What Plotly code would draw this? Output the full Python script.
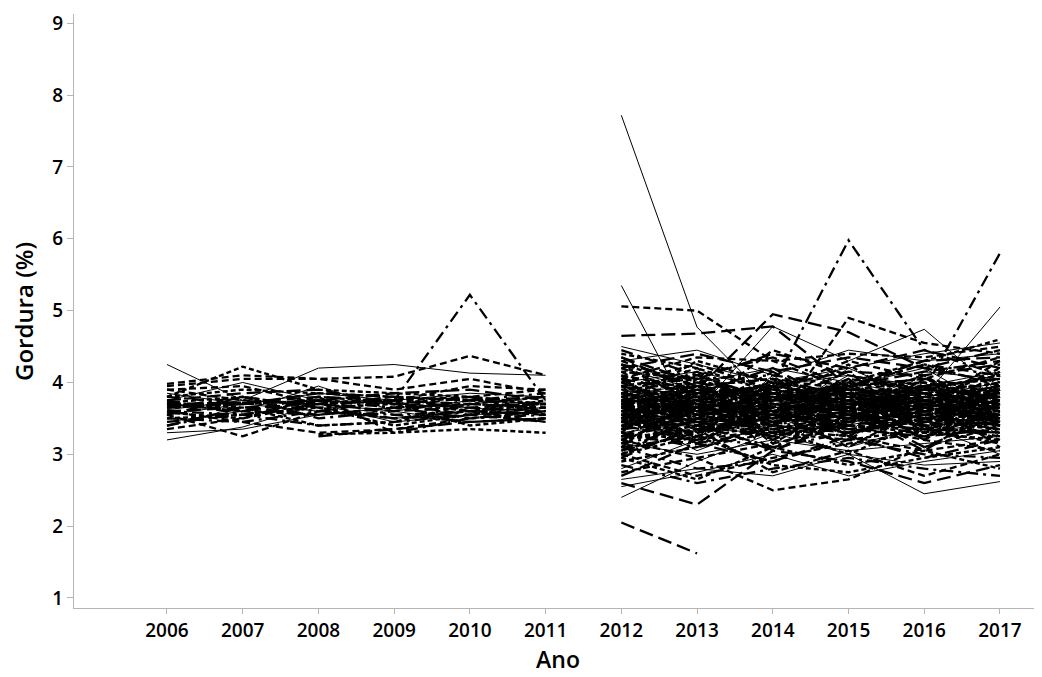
import plotly.graph_objects as go

years_early = [2006, 2007, 2008, 2009, 2010, 2011]
years_late = [2012, 2013, 2014, 2015, 2016, 2017]
tick_years = list(range(2006, 2018))
y_ticks = [1, 2, 3, 4, 5, 6, 7, 8, 9]

fat_early = [
    [4.25, 3.75, 4.20, 4.25, 4.13, 4.10],
    [3.95, 4.05, 4.05, 4.08, 4.37, 4.10],
    [3.70, 3.72, 3.80, 3.75, 3.65, 3.60],
    [3.60, 3.55, 3.70, 3.75, 5.22, 3.75],
    [3.80, 4.22, 3.90, 3.85, 3.80, 3.70],
    [3.20, 3.38, 3.70, 3.60, 3.75, 3.70],
    [3.55, 3.25, 3.60, 3.50, 3.60, 3.55],
    [None, None, 3.25, 3.35, 3.45, 3.50],
    [3.40, 3.60, 3.80, 3.30, 3.50, 3.60],
    [None, None, 3.28, 3.30, 3.35, 3.30],
    [3.75, 4.00, 3.75, 3.70, 3.65, 3.55],
    [3.98, 4.10, 4.05, 3.90, 4.05, 3.85],
    [3.65, 3.70, 3.85, 3.80, 3.75, 3.80],
    [3.50, 3.45, 3.60, 3.75, 3.70, 3.65],
    [3.72, 3.80, 3.65, 3.40, 3.55, 3.75],
    [3.45, 3.60, 3.95, 3.60, 3.45, 3.50],
    [3.90, 3.75, 3.70, 3.75, 3.95, 3.90],
    [3.60, 3.65, 3.55, 3.65, 3.80, 3.60],
    [3.80, 3.70, 3.75, 3.55, 3.60, 3.70],
    [3.70, 3.65, 3.40, 3.45, 3.70, 3.80],
    [3.55, 3.70, 3.85, 3.75, 3.85, 3.80],
    [3.35, 3.50, 3.70, 3.80, 3.60, 3.45],
    [3.75, 3.85, 3.90, 3.70, 3.55, 3.60],
    [3.65, 3.80, 3.50, 3.60, 3.75, 3.85],
    [3.50, 3.55, 3.65, 3.70, 3.40, 3.50],
    [3.85, 3.70, 3.60, 3.50, 3.60, 3.65],
    [3.60, 3.45, 3.30, 3.35, 3.50, 3.60],
    [3.72, 3.60, 3.75, 3.85, 3.90, 3.75],
    [3.45, 3.55, 3.75, 3.65, 3.50, 3.55],
    [3.80, 3.90, 3.85, 3.80, 3.75, 3.70],
    [3.62, 3.75, 3.70, 3.45, 3.55, 3.60],
    [3.70, 3.60, 3.55, 3.65, 3.70, 3.65],
    [3.40, 3.65, 3.70, 3.60, 3.65, 3.70],
    [3.68, 3.72, 3.60, 3.55, 3.45, 3.50],
    [3.58, 3.50, 3.80, 3.72, 3.60, 3.75],
    [3.30, 3.35, 3.55, 3.65, 3.70, 3.80],
    [3.90, 3.95, 3.70, 3.75, 3.80, 3.90],
    [3.55, 3.80, 3.65, 3.50, 3.55, 3.45],
    [3.75, 3.55, 3.40, 3.45, 3.55, 3.65],
    [3.65, 3.70, 3.75, 3.70, 3.80, 3.55],
]

fat_late = [
    [7.72, 4.77, 3.70, 3.90, 3.75, 3.60],
    [5.06, 5.00, 4.30, 3.90, 4.00, 3.80],
    [4.65, 4.68, 4.78, 3.95, 4.30, 4.35],
    [3.60, 3.80, 3.95, 5.98, 4.45, 4.10],
    [4.40, 4.20, 3.85, 3.70, 3.95, 4.05],
    [5.35, 3.35, 3.60, 3.50, 3.40, 3.55],
    [4.05, 4.35, 4.30, 4.40, 4.35, 4.50],
    [2.05, 1.62, None, None, None, None],
    [3.50, 3.70, 3.60, 3.85, 3.90, 5.80],
    [4.25, 3.95, 3.50, 3.80, 3.65, 3.40],
    [3.40, 3.60, 4.78, 4.30, 4.74, 3.85],
    [3.85, 3.55, 3.40, 4.90, 4.55, 4.40],
    [3.70, 3.90, 4.95, 4.70, 4.20, 4.00],
    [3.30, 3.10, 3.40, 3.60, 3.75, 3.95],
    [3.95, 4.10, 3.75, 4.00, 4.30, 4.60],
    [2.40, 2.90, 3.30, 3.00, 2.45, 2.62],
    [3.20, 2.95, 2.50, 2.65, 3.10, 3.40],
    [2.60, 2.30, 3.05, 2.90, 2.60, 2.85],
    [3.10, 2.80, 2.90, 3.20, 3.00, 2.95],
    [3.00, 3.25, 2.85, 2.75, 2.95, 3.10],
    [3.80, 4.00, 4.20, 4.00, 3.80, 5.05],
    [3.55, 3.65, 3.50, 3.70, 3.60, 3.75],
    [3.75, 3.60, 3.80, 3.65, 3.90, 3.70],
    [3.35, 3.50, 3.45, 3.30, 3.55, 3.60],
    [3.65, 3.85, 3.70, 3.55, 3.70, 3.85],
    [3.90, 3.70, 3.55, 3.75, 3.95, 3.80],
    [3.45, 3.30, 3.60, 3.65, 3.50, 3.35],
    [3.60, 3.75, 3.95, 3.80, 3.65, 3.55],
    [3.25, 3.45, 3.30, 3.50, 3.40, 3.25],
    [3.80, 3.55, 3.65, 3.90, 3.85, 4.00],
    [3.50, 3.40, 3.75, 3.60, 3.30, 3.45],
    [4.10, 3.90, 3.85, 3.70, 3.60, 3.75],
    [3.70, 3.80, 3.60, 3.40, 3.55, 3.65],
    [3.15, 3.35, 3.55, 3.45, 3.60, 3.50],
    [3.95, 3.75, 4.00, 3.85, 3.70, 3.90],
    [3.55, 3.45, 3.35, 3.55, 3.75, 3.80],
    [3.85, 3.95, 3.80, 3.60, 3.50, 3.70],
    [3.40, 3.60, 3.65, 3.75, 3.85, 3.60],
    [3.65, 3.50, 3.40, 3.35, 3.45, 3.55],
    [3.30, 3.20, 3.45, 3.70, 3.65, 3.45],
    [4.00, 4.15, 3.90, 3.75, 3.80, 3.95],
    [3.60, 3.70, 3.85, 3.95, 4.05, 3.85],
    [3.75, 3.65, 3.55, 3.45, 3.35, 3.30],
    [3.45, 3.55, 3.70, 3.60, 3.75, 3.90],
    [3.20, 3.40, 3.25, 3.40, 3.30, 3.20],
    [3.90, 3.85, 3.95, 4.10, 3.95, 4.15],
    [3.50, 3.75, 3.60, 3.50, 3.60, 3.70],
    [3.70, 3.45, 3.50, 3.65, 3.80, 3.65],
    [3.35, 3.55, 3.75, 3.85, 3.70, 3.50],
    [4.15, 4.05, 3.70, 3.60, 3.90, 4.10],
    [3.60, 3.35, 3.30, 3.45, 3.55, 3.40],
    [3.80, 3.70, 3.90, 3.80, 3.70, 3.60],
    [3.05, 3.30, 3.55, 3.35, 3.25, 3.35],
    [3.65, 3.90, 3.80, 3.70, 3.55, 3.75],
    [3.95, 3.60, 3.45, 3.55, 3.65, 3.85],
    [3.45, 3.40, 3.60, 3.80, 3.90, 3.80],
    [3.55, 3.80, 3.85, 3.65, 3.45, 3.50],
    [3.75, 3.95, 3.65, 3.50, 3.70, 3.95],
    [3.25, 3.15, 3.35, 3.55, 3.40, 3.30],
    [3.85, 3.65, 3.75, 3.95, 4.00, 3.75],
    [3.40, 3.50, 3.55, 3.40, 3.65, 3.75],
    [4.30, 3.95, 4.05, 3.90, 3.75, 3.65],
    [3.60, 3.60, 3.40, 3.30, 3.50, 3.60],
    [3.70, 3.85, 3.95, 3.75, 3.60, 3.80],
    [2.90, 3.10, 3.30, 3.20, 3.35, 3.15],
    [3.50, 3.65, 3.80, 3.90, 3.80, 4.00],
    [3.80, 3.50, 3.60, 3.70, 3.85, 3.70],
    [3.35, 3.45, 3.25, 3.45, 3.60, 3.55],
    [3.95, 4.05, 4.10, 3.95, 4.05, 3.90],
    [3.65, 3.55, 3.70, 3.60, 3.40, 3.45],
    [3.15, 3.00, 3.20, 3.05, 3.15, 3.25],
    [4.20, 3.80, 3.65, 4.05, 3.90, 3.85],
    [3.55, 3.70, 3.45, 3.55, 3.70, 3.60],
    [3.75, 3.50, 3.85, 3.75, 3.55, 3.40],
    [3.45, 3.65, 3.55, 3.35, 3.25, 3.45],
    [3.85, 3.75, 3.60, 3.70, 3.80, 3.95],
    [2.75, 2.95, 3.15, 3.40, 3.20, 3.05],
    [3.60, 3.85, 3.75, 3.85, 3.95, 3.75],
    [3.70, 3.60, 3.30, 3.50, 3.65, 3.80],
    [3.90, 4.00, 3.85, 3.65, 3.75, 3.55],
    [3.30, 3.45, 3.65, 3.75, 3.55, 3.65],
    [3.50, 3.30, 3.45, 3.60, 3.85, 3.70],
    [4.05, 3.85, 3.95, 4.15, 4.10, 4.25],
    [3.65, 3.75, 3.55, 3.45, 3.60, 3.50],
    [3.20, 3.35, 3.50, 3.65, 3.45, 3.35],
    [3.80, 3.90, 3.70, 3.55, 3.65, 3.85],
    [3.40, 3.20, 3.35, 3.25, 3.05, 3.20],
    [4.35, 4.00, 3.80, 3.95, 4.15, 4.30],
    [3.55, 3.60, 3.75, 3.85, 3.70, 3.60],
    [3.75, 3.80, 3.90, 3.70, 3.50, 3.65],
    [2.65, 2.80, 2.70, 3.00, 2.85, 2.90],
    [3.60, 3.45, 3.60, 3.80, 3.95, 4.05],
    [3.95, 3.70, 3.65, 3.55, 3.45, 3.60],
    [3.35, 3.65, 3.85, 3.70, 3.75, 3.50],
    [3.70, 3.55, 3.35, 3.45, 3.70, 3.85],
    [4.50, 4.25, 4.00, 4.20, 4.40, 4.55],
    [3.45, 3.75, 3.60, 3.40, 3.35, 3.55],
    [3.85, 3.60, 3.80, 3.90, 3.85, 3.70],
    [3.10, 3.25, 3.10, 3.30, 3.50, 3.40],
    [3.65, 3.95, 4.05, 3.80, 3.60, 3.75],
    [3.50, 3.55, 3.65, 3.70, 3.80, 3.95],
    [3.00, 2.70, 2.95, 3.15, 3.30, 3.55],
    [4.20, 4.40, 4.15, 4.35, 4.20, 4.45],
    [2.85, 2.60, 2.80, 2.95, 2.80, 2.70],
    [3.70, 4.30, 4.00, 3.60, 3.70, 4.20],
    [2.55, 2.75, 3.00, 2.70, 2.90, 3.05],
    [4.00, 3.65, 4.45, 4.10, 3.90, 4.10],
    [3.10, 3.85, 3.40, 4.05, 3.30, 3.90],
    [4.10, 3.30, 3.95, 3.20, 3.85, 3.35],
    [3.30, 4.05, 3.20, 3.90, 3.50, 4.15],
    [3.95, 3.20, 4.10, 3.40, 4.00, 3.25],
    [3.45, 3.95, 3.15, 3.75, 4.10, 3.45],
    [3.75, 3.15, 3.70, 4.15, 3.35, 3.95],
    [3.05, 3.50, 3.90, 3.25, 3.80, 3.10],
    [4.25, 3.70, 3.25, 3.85, 3.20, 4.00],
    [3.60, 3.05, 3.45, 3.95, 4.20, 3.60],
    [3.85, 4.20, 3.60, 3.10, 3.65, 4.30],
    [3.20, 3.60, 4.15, 3.60, 3.05, 3.70],
    [4.05, 3.45, 3.05, 3.50, 3.95, 3.50],
    [3.50, 4.10, 3.75, 4.25, 3.60, 3.20],
    [3.90, 3.35, 3.85, 3.30, 4.15, 4.05],
    [3.15, 3.75, 3.40, 3.95, 3.45, 3.85],
    [4.35, 3.85, 4.20, 3.65, 3.95, 3.40],
    [2.95, 3.40, 3.10, 3.55, 3.25, 3.60],
    [3.70, 3.25, 4.05, 3.55, 3.30, 4.10],
    [3.40, 3.90, 3.50, 4.10, 3.85, 3.30],
    [4.15, 3.60, 3.95, 3.45, 4.05, 3.70],
    [3.25, 3.70, 3.20, 3.65, 3.10, 3.55],
    [3.80, 4.15, 3.55, 4.00, 3.40, 3.90],
    [3.55, 3.15, 3.80, 3.25, 3.70, 3.15],
    [2.80, 3.20, 3.55, 3.10, 3.40, 3.00],
    [4.00, 4.25, 3.90, 4.30, 4.05, 4.35],
    [3.35, 3.80, 3.05, 3.45, 3.95, 3.60],
    [3.65, 3.40, 4.00, 3.85, 3.20, 3.80],
    [3.00, 3.55, 3.35, 3.00, 3.45, 3.90],
    [4.20, 3.90, 3.45, 4.20, 3.75, 3.55],
    [3.45, 3.25, 3.65, 3.95, 4.25, 3.95],
    [2.70, 3.15, 2.90, 3.25, 2.95, 3.20],
    [4.45, 4.10, 4.35, 3.95, 4.25, 4.10],
    [2.95, 2.65, 3.10, 2.85, 3.05, 2.80],
    [4.30, 4.45, 4.10, 4.45, 4.30, 4.40],
    [3.00, 3.35, 2.75, 3.05, 2.70, 3.00],
    [4.25, 4.05, 4.40, 4.20, 4.45, 4.20],
]

# line style cycle (solid thin, dash, long dash, dash-dot, heavy dash)
styles = [
    dict(dash="solid", width=1),
    dict(dash="7px,4px", width=2.3),
    dict(dash="14px,6px", width=2.3),
    dict(dash="12px,5px,3px,5px", width=2.3),
    dict(dash="5px,3px", width=2.4),
]

fig = go.Figure()

def add_group(xs, rows):
    for i, row in enumerate(rows):
        st = styles[i % len(styles)]
        fig.add_trace(go.Scatter(
            x=xs, y=row, mode="lines", connectgaps=False,
            line=dict(color="black", width=st["width"], dash=st["dash"]),
            showlegend=False, hoverinfo="skip",
        ))

add_group(years_early, fat_early)
add_group(years_late, fat_late)

axis_col = "#b5b5b5"
font_family = "Open Sans, Noto Sans, DejaVu Sans, sans-serif"

# page body has an 8px margin, so the figure is sized to fit the window
fig.update_layout(
    width=1034, height=669,
    margin=dict(l=66, r=0, t=6, b=69),
    paper_bgcolor="white", plot_bgcolor="white",
    font=dict(family=font_family, color="black"),
    showlegend=False,
)
fig.update_xaxes(
    range=[2004.772, 2017.555],
    tickvals=tick_years, ticktext=[str(y) for y in tick_years],
    showgrid=False, zeroline=False, automargin=False,
    showline=True, linecolor=axis_col, linewidth=1,
    ticks="outside", tickcolor=axis_col, ticklen=5,
    tickfont=dict(size=19, color="black", weight=600),
    title=dict(text="Ano", font=dict(size=23, color="black", weight=600), standoff=9),
)
fig.update_yaxes(
    range=[0.86, 9.13],
    tickvals=y_ticks,
    showgrid=False, zeroline=False, automargin=False,
    showline=True, linecolor=axis_col, linewidth=1,
    ticks="outside", tickcolor=axis_col, ticklen=6,
    tickfont=dict(size=19, color="black", weight=600),
)
fig.add_annotation(
    text="Gordura (%)", textangle=-90,
    xref="paper", yref="paper", x=-0.0527, y=0.50,
    xanchor="center", yanchor="middle", showarrow=False,
    font=dict(size=24, color="black", weight=600, family=font_family),
)

fig.write_html("out.html")
